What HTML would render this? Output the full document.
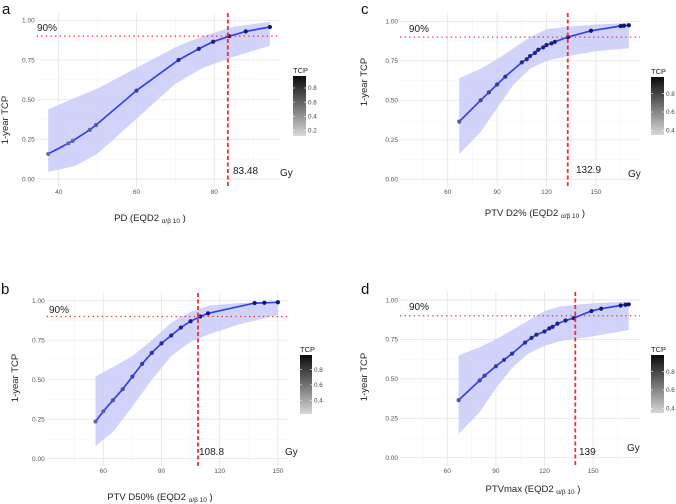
<!DOCTYPE html>
<html><head><meta charset="utf-8"><style>
html,body{margin:0;padding:0;background:#fff;}
svg{display:block;font-family:"Liberation Sans",sans-serif;}
</style></head><body>
<svg id="fig" width="676" height="504" viewBox="0 0 676 504">
<defs>
<linearGradient id="leg" x1="0" y1="0" x2="0" y2="1"><stop offset="0" stop-color="#0a0a0a"/><stop offset="1" stop-color="#d8d8d8"/></linearGradient>
</defs>
</svg>
<script>
// Panel a: PD
const aLineX=[37.3,42.5,43.6,48.0,49.6,60,70.8,76.0,79.7,83.9,88.1,94.3];
const aLineY=[0.158,0.225,0.24,0.31,0.34,0.557,0.75,0.82,0.865,0.90,0.93,0.958];
const aBandX=[37.3,44,50,60,70,77,85,94.3];
const aBandLo=[0.045,0.08,0.16,0.38,0.6,0.70,0.77,0.84];
const aBandHi=[0.44,0.51,0.57,0.70,0.83,0.90,0.96,0.99];
const aXTicks=[40,60,80];const aCut=83.48;const aCutLabel="83.48";
// Panel b: PTV D50%
const bLineX=[56,60,65,70,75,80,85,90,95,100,105,110,114,138,143,150];
const bLineY=[0.235,0.30,0.37,0.44,0.52,0.60,0.67,0.73,0.78,0.83,0.87,0.90,0.92,0.985,0.987,0.99];
const bBandX=[56,65,75,85,95,105,115,130,150];
const bBandLo=[0.08,0.17,0.33,0.50,0.65,0.74,0.79,0.85,0.91];
const bBandHi=[0.52,0.58,0.65,0.75,0.86,0.93,0.97,0.985,0.995];
const bXTicks=[60,90,120,150];const bCut=108.8;const bCutLabel="108.8";
// Panel c: PTV D2%
const cLineX=[67,80,85,90,95,105,108,110,113,115,118,120,123,125,133,147,165,167,170];
const cLineY=[0.365,0.50,0.55,0.60,0.65,0.74,0.76,0.78,0.80,0.82,0.835,0.85,0.86,0.87,0.90,0.94,0.97,0.972,0.975];
const cBandX=[67,80,90,100,110,120,133,150,170];
const cBandLo=[0.16,0.30,0.45,0.60,0.70,0.75,0.78,0.81,0.83];
const cBandHi=[0.64,0.70,0.76,0.83,0.90,0.95,0.965,0.98,0.99];
const cXTicks=[60,90,120,150];const cCut=132.9;const cCutLabel="132.9";
// Panel d: PTVmax
const dLineX=[67,80,83,90,95,100,108,112,115,120,123,125,128,133,138,149,155,167,170,172];
const dLineY=[0.365,0.49,0.52,0.58,0.62,0.66,0.73,0.76,0.78,0.80,0.82,0.83,0.85,0.87,0.885,0.93,0.945,0.965,0.97,0.972];
const dBandX=[67,80,90,100,110,120,130,150,172];
const dBandLo=[0.15,0.29,0.44,0.57,0.66,0.71,0.74,0.77,0.81];
const dBandHi=[0.65,0.70,0.75,0.81,0.87,0.93,0.96,0.98,0.99];
const dXTicks=[60,90,120,150];const dCut=139;const dCutLabel="139";
const yTicks=[0,0.25,0.5,0.75,1];
const yTickLabels=["0.00","0.25","0.50","0.75","1.00"];

const NS="http://www.w3.org/2000/svg";
const svg=document.getElementById('fig');
function mk(tag,attrs,parent,text){const e=document.createElementNS(NS,tag);for(const k in attrs)e.setAttribute(k,attrs[k]);if(text!==undefined)e.textContent=text;(parent||svg).appendChild(e);return e;}

const panels=[
 {id:'a',lx:aLineX,ly:aLineY,bx:aBandX,lo:aBandLo,hi:aBandHi,xt:aXTicks,cut:aCut,cutLabel:aCutLabel,
  x0:40,px0:58.7,ppu:3.89,y0:179,ypu:158.7,rect:[36.7,13,280,187],title:"PD (EQD2 ",tx:150,ty:221,
  ylx:8,yly:120,letter:[2,14],leg:[293,76,306,136],legTicks:[0.2,0.4,0.6,0.8],legMin:0.12,legMax:0.97,p90:[37,31],cutL:[233,174],gy:[280,176]},
 {id:'b',lx:bLineX,ly:bLineY,bx:bBandX,lo:bBandLo,hi:bBandHi,xt:bXTicks,cut:bCut,cutLabel:bCutLabel,
  x0:60,px0:103.3,ppu:1.94,y0:458.7,ypu:158,rect:[46.7,293,288,466],title:"PTV D50% (EQD2 ",tx:160,ty:500,
  ylx:18,yly:378,letter:[1,294],leg:[300,355,312,414],legTicks:[0.4,0.6,0.8],legMin:0.22,legMax:0.99,p90:[49,313],cutL:[199,455],gy:[285,455]},
 {id:'c',lx:cLineX,ly:cLineY,bx:cBandX,lo:cBandLo,hi:cBandHi,xt:cXTicks,cut:cCut,cutLabel:cCutLabel,
  x0:60,px0:447.7,ppu:1.647,y0:179.3,ypu:158,rect:[400,13,640,187],title:"PTV D2% (EQD2 ",tx:535,ty:216,
  ylx:367,yly:82,letter:[361,14],leg:[651,77,664,135],legTicks:[0.4,0.6,0.8],legMin:0.35,legMax:0.98,p90:[409,32],cutL:[576,173],gy:[628,177]},
 {id:'d',lx:dLineX,ly:dLineY,bx:dBandX,lo:dBandLo,hi:dBandHi,xt:dXTicks,cut:dCut,cutLabel:dCutLabel,
  x0:60,px0:447.3,ppu:1.62,y0:457.7,ypu:157.7,rect:[400,292,640,466],title:"PTVmax (EQD2 ",tx:533,ty:492,
  ylx:367,yly:377,letter:[361,294],leg:[651,355,664,413],legTicks:[0.4,0.6,0.8],legMin:0.35,legMax:0.98,p90:[409,310],cutL:[579,455],gy:[627,451]}
];

panels.forEach(p=>{
 const X=v=>p.px0+(v-p.x0)*p.ppu, Y=v=>p.y0-v*p.ypu;
 const g=mk('g',{});
 
 
 const [L,T,R,B]=p.rect;
 const step=p.xt[1]-p.xt[0];
 for(let v=p.xt[0]-step*1.5;v<=p.xt[p.xt.length-1]+step;v+=step){const x=X(v);if(x>L&&x<R)mk('line',{x1:x,x2:x,y1:T,y2:B,stroke:'#f4f4f4','stroke-width':0.6},g);}
 for(let v=0.125;v<1.1;v+=0.25){mk('line',{x1:L,x2:R,y1:Y(v),y2:Y(v),stroke:'#f4f4f4','stroke-width':0.6},g);}
 p.xt.forEach(v=>{mk('line',{x1:X(v),x2:X(v),y1:T,y2:B,stroke:'#e6e6e6','stroke-width':0.9},g);
  const t=mk('text',{x:X(v),y:B+7,'font-size':6.5,fill:'#555','text-anchor':'middle'},g,String(v));
  });
 yTicks.forEach((v,i)=>{mk('line',{x1:L,x2:R,y1:Y(v),y2:Y(v),stroke:'#e6e6e6','stroke-width':0.9},g);
  const t=mk('text',{x:L-2,y:Y(v)+2.3,'font-size':6.5,fill:'#555','text-anchor':'end'},g,yTickLabels[i]);
  });
 let d='M'+p.bx.map((v,i)=>X(v).toFixed(1)+','+Y(p.hi[i]).toFixed(1)).join('L');
 for(let i=p.bx.length-1;i>=0;i--)d+='L'+X(p.bx[i]).toFixed(1)+','+Y(p.lo[i]).toFixed(1);
 const band=mk('path',{d:d+'Z',fill:'#c9cbf9','fill-opacity':0.85},g);
 
 const ln=mk('polyline',{points:p.lx.map((v,i)=>X(v).toFixed(1)+','+Y(p.ly[i]).toFixed(1)).join(' '),fill:'none',stroke:'#3440ee','stroke-width':1.7},g);
 
 p.lx.forEach((v,i)=>{const f=Math.max(0,Math.min(1,(p.ly[i]-0.2)/0.8));
  const r=Math.round(100-90*f),gg=Math.round(105-90*f),b=Math.round(180-60*f);
  const c=mk('circle',{cx:X(v),cy:Y(p.ly[i]),r:2.1,fill:`rgb(${r},${gg},${b})`},g);
  });
 const h=mk('line',{x1:L,x2:R,y1:Y(0.9),y2:Y(0.9),stroke:'#f03030','stroke-width':1.3,'stroke-dasharray':'1.3,3.3'},g);
 
 const vl=mk('line',{x1:X(p.cut),x2:X(p.cut),y1:T,y2:B,stroke:'#f03030','stroke-width':1.8,'stroke-dasharray':'4,2.5'},g);
 
 const t90=mk('text',{x:p.p90[0],y:p.p90[1],'font-size':10,fill:'#222'},g,'90%');
 
 const tc=mk('text',{x:p.cutL[0],y:p.cutL[1],'font-size':10,fill:'#222'},g,p.cutLabel);
 
 const tg=mk('text',{x:p.gy[0],y:p.gy[1],'font-size':10,fill:'#222'},g,'Gy');
 
 const xt=mk('text',{x:p.tx,y:p.ty,'font-size':9.5,fill:'#222','text-anchor':'middle'},g);
 
 mk('tspan',{},xt,p.title);mk('tspan',{'font-size':6.5,dy:2},xt,'α/β 10');mk('tspan',{dy:-2},xt,' )');
 const yt=mk('text',{x:p.ylx,y:p.yly,'font-size':9.5,fill:'#222','text-anchor':'middle',transform:`rotate(-90 ${p.ylx} ${p.yly})`},g,'1-year TCP');
 
 const lt=mk('text',{x:p.letter[0],y:p.letter[1],'font-size':15,fill:'#111'},g,p.id);
 
 const [a,b,c,e]=p.leg;
 const lg=mk('g',{},g);
 mk('text',{x:a,y:b-3,'font-size':7.5,fill:'#222'},lg,'TCP');
 mk('rect',{x:a,y:b,width:c-a,height:e-b,fill:'url(#leg)'},lg);
 p.legTicks.forEach(v=>{const y=e-(v-p.legMin)/(p.legMax-p.legMin)*(e-b);
  mk('line',{x1:a,x2:a+2,y1:y,y2:y,stroke:'#fff','stroke-width':0.6},lg);
  mk('line',{x1:c-2,x2:c,y1:y,y2:y,stroke:'#fff','stroke-width':0.6},lg);
  mk('text',{x:c+2,y:y+2.2,'font-size':6.3,fill:'#444'},lg,v.toFixed(1));});
});
</script>
</body></html>
